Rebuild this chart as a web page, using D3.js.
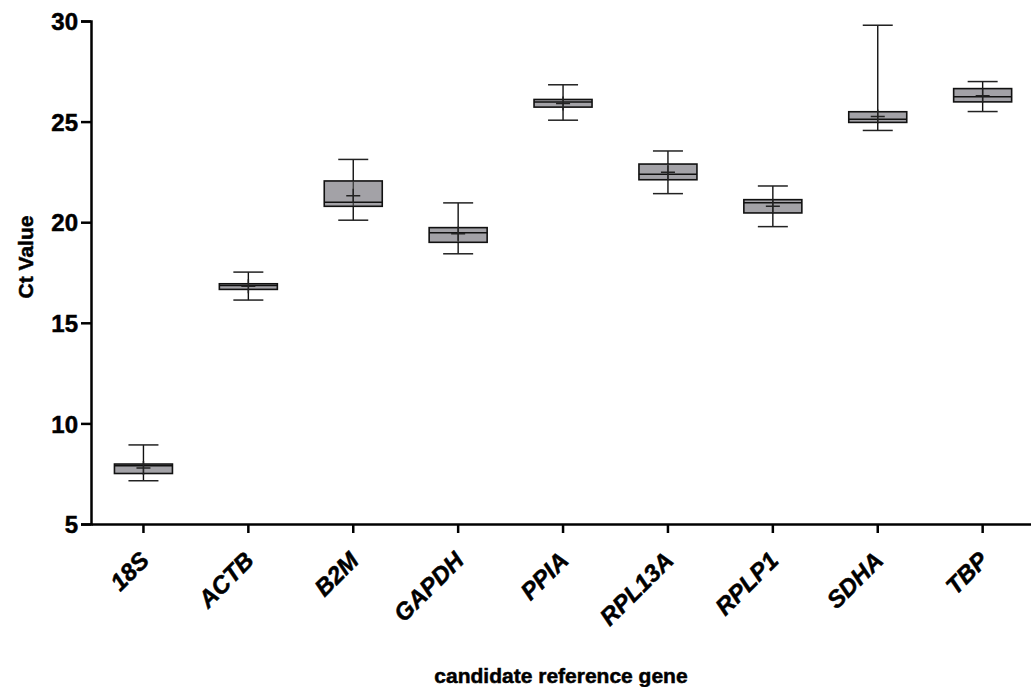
<!DOCTYPE html>
<html>
<head>
<meta charset="utf-8">
<script src="https://cdn.jsdelivr.net/npm/d3@7"></script>
<style>
  body { margin: 0; background: #fff; }
  svg text { font-family: "Liberation Sans", Arial, sans-serif; font-weight: bold; fill: #000; stroke: #000; stroke-width: 0.5px; }
</style>
</head>
<body>
<svg id="chart" width="1031" height="687"></svg>
<script>
const genes = ["18S", "ACTB", "B2M", "GAPDH", "PPIA", "RPL13A", "RPLP1", "SDHA", "TBP"];
const whiskerLow = [7.15, 16.13, 20.1, 18.43, 25.07, 21.42, 19.78, 24.56, 25.5];
const q1 = [7.51, 16.66, 20.79, 19.0, 25.72, 22.11, 20.46, 24.96, 25.98];
const median = [7.9, 16.86, 20.99, 19.48, 25.98, 22.38, 20.97, 25.12, 26.23];
const q3 = [7.98, 16.94, 22.05, 19.73, 26.1, 22.89, 21.12, 25.49, 26.64];
const whiskerHigh = [8.93, 17.52, 23.12, 20.96, 26.83, 23.54, 21.8, 29.79, 26.99];
const means = [7.78, 16.82, 21.32, 19.43, 25.9, 22.48, 20.79, 25.25, 26.28];
const yTicks = [5, 10, 15, 20, 25, 30];

const svg = d3.select("#chart");
const marginLeft = 91, plotTop = 21, plotBottom = 524;
const step = 104.9;

const x = d3.scaleBand().domain(genes).range([marginLeft, marginLeft + step * genes.length]).padding(0);
const y = d3.scaleLinear().domain([5, 30]).range([plotBottom, plotTop]);

const boxW = 58, capW = 30, plus = 7;

const rows = genes.map((g, i) => ({
  gene: g, lo: whiskerLow[i], q1: q1[i], med: median[i], q3: q3[i], hi: whiskerHigh[i], mean: means[i]
}));

const groups = svg.selectAll("g.box")
  .data(rows)
  .enter()
  .append("g")
  .attr("class", "box")
  .attr("transform", d => "translate(" + (x(d.gene) + x.bandwidth() / 2) + ",0)");

// whisker stem
groups.append("line")
  .attr("x1", 0).attr("x2", 0)
  .attr("y1", d => y(d.hi)).attr("y2", d => y(d.lo))
  .attr("stroke", "#111").attr("stroke-width", 1.4);

// caps
groups.selectAll("line.cap")
  .data(d => [d.lo, d.hi])
  .enter()
  .append("line")
  .attr("class", "cap")
  .attr("x1", -capW / 2).attr("x2", capW / 2)
  .attr("y1", v => y(v)).attr("y2", v => y(v))
  .attr("stroke", "#222").attr("stroke-width", 1.5);

// box
groups.append("rect")
  .attr("x", -boxW / 2)
  .attr("width", boxW)
  .attr("y", d => y(d.q3))
  .attr("height", d => y(d.q1) - y(d.q3))
  .attr("fill", "#a3a2a7")
  .attr("stroke", "#111")
  .attr("stroke-width", 1.6);

// median
groups.append("line")
  .attr("x1", -boxW / 2).attr("x2", boxW / 2)
  .attr("y1", d => y(d.med)).attr("y2", d => y(d.med))
  .attr("stroke", "#111").attr("stroke-width", 1.5);

// whisker through box
groups.append("line")
  .attr("x1", 0).attr("x2", 0)
  .attr("y1", d => y(d.q3)).attr("y2", d => y(d.q1))
  .attr("stroke", "#333").attr("stroke-width", 1.2);

// mean marker
groups.append("path")
  .attr("d", d => {
    const cy = y(d.mean);
    return "M" + (-plus) + "," + cy + "H" + plus + "M0," + (cy - plus) + "V" + (cy + plus);
  })
  .attr("stroke", "#222").attr("stroke-width", 1.5).attr("fill", "none");

// axes
const yAxis = svg.append("g")
  .attr("transform", "translate(" + marginLeft + ",0)")
  .call(d3.axisLeft(y).tickValues(yTicks).tickSize(10).tickPadding(3));
yAxis.select(".domain").attr("stroke", "#000").attr("stroke-width", 2.5);
yAxis.selectAll(".tick line").attr("stroke", "#000").attr("stroke-width", 2.5);
yAxis.selectAll(".tick text").style("font-size", "24px").attr("dy", "0.36em");

const xAxis = svg.append("g")
  .attr("transform", "translate(0," + plotBottom + ")")
  .call(d3.axisBottom(x).tickSize(9).tickSizeOuter(0));
xAxis.select(".domain").attr("stroke", "#000").attr("stroke-width", 2.5);
xAxis.selectAll(".tick line").attr("stroke", "#000").attr("stroke-width", 2.5);
xAxis.selectAll(".tick text")
  .style("font-size", "24px")
  .style("font-style", "italic")
  .attr("text-anchor", "end")
  .attr("x", 0).attr("y", 0).attr("dy", 0)
  .attr("transform", "translate(7,38) rotate(-45)");

// axis titles
svg.append("text")
  .attr("x", 561).attr("y", 683)
  .attr("text-anchor", "middle")
  .style("font-size", "21px")
  .text("candidate reference gene");

svg.append("text")
  .attr("transform", "translate(33,257) rotate(-90)")
  .attr("text-anchor", "middle")
  .style("font-size", "21px")
  .text("Ct Value");
</script>
</body>
</html>
